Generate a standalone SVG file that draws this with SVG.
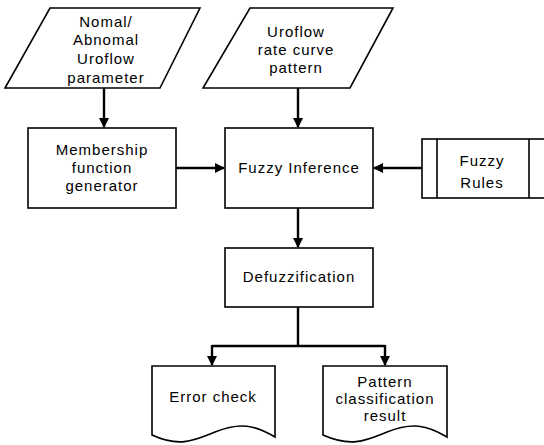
<svg xmlns="http://www.w3.org/2000/svg" width="544" height="445" viewBox="0 0 544 445">
<defs>
<marker id="ah" markerWidth="10" markerHeight="10" refX="9" refY="5" orient="auto" markerUnits="userSpaceOnUse">
<path d="M0,0 L10,5 L0,10 Z" fill="#000"/>
</marker>
<style>
.s{fill:#fff;stroke:#000;stroke-width:1.6}
.t{font-family:"Liberation Sans",Arial,sans-serif;font-size:15px;letter-spacing:1px;text-anchor:middle;fill:#000}
.c{fill:none;stroke:#000;stroke-width:2.4}
</style>
</defs>
<rect width="544" height="445" fill="#fff"/>
<g id="connectors">
<path class="c" d="M104,88 V127" marker-end="url(#ah)"/>
<path class="c" d="M298,88 V127" marker-end="url(#ah)"/>
<path class="c" d="M176,168 H224" marker-end="url(#ah)"/>
<path class="c" d="M422,168 H374" marker-end="url(#ah)"/>
<path class="c" d="M298,208 V247" marker-end="url(#ah)"/>
<path class="c" d="M298,307 V346"/>
<path class="c" d="M212,346 H385"/>
<path class="c" d="M212,345 V365" marker-end="url(#ah)"/>
<path class="c" d="M385,345 V365" marker-end="url(#ah)"/>
</g>
<g id="n1">
<polygon class="s" points="50,8 200,8 160,88 5,88"/>
<text class="t" x="106" y="27">Nomal/</text>
<text class="t" x="106" y="45">Abnomal</text>
<text class="t" x="106" y="64">Uroflow</text>
<text class="t" x="106" y="83">parameter</text>
</g>
<g id="n2">
<polygon class="s" points="250,8 393,8 350,88 203,88"/>
<text class="t" x="296" y="37">Uroflow</text>
<text class="t" x="296" y="55">rate curve</text>
<text class="t" x="296" y="73">pattern</text>
</g>
<g id="n3">
<rect class="s" x="28" y="128" width="148" height="80"/>
<text class="t" x="102" y="155">Membership</text>
<text class="t" x="102" y="173">function</text>
<text class="t" x="102" y="191">generator</text>
</g>
<g id="n4">
<rect class="s" x="225" y="128" width="148" height="80"/>
<text class="t" x="299" y="173">Fuzzy Inference</text>
</g>
<g id="n5">
<rect class="s" x="422" y="139" width="124" height="59"/>
<line class="s" x1="437" y1="139" x2="437" y2="198"/>
<line class="s" x1="529" y1="139" x2="529" y2="198"/>
<text class="t" x="482" y="166">Fuzzy</text>
<text class="t" x="482" y="188">Rules</text>
</g>
<g id="n6">
<rect class="s" x="225" y="248" width="148" height="59"/>
<text class="t" x="299" y="282">Defuzzification</text>
</g>
<g id="n7">
<path class="s" d="M152,366 H275 V437 C255,425 240,422 215,432 C195,440 180,448 152,435 Z"/>
<text class="t" x="213" y="402">Error check</text>
</g>
<g id="n8">
<path class="s" d="M323,366 H447 V437 C427,425 412,422 387,432 C367,440 352,448 323,435 Z"/>
<text class="t" x="385" y="387">Pattern</text>
<text class="t" x="385" y="404">classification</text>
<text class="t" x="385" y="421">result</text>
</g>
</svg>
